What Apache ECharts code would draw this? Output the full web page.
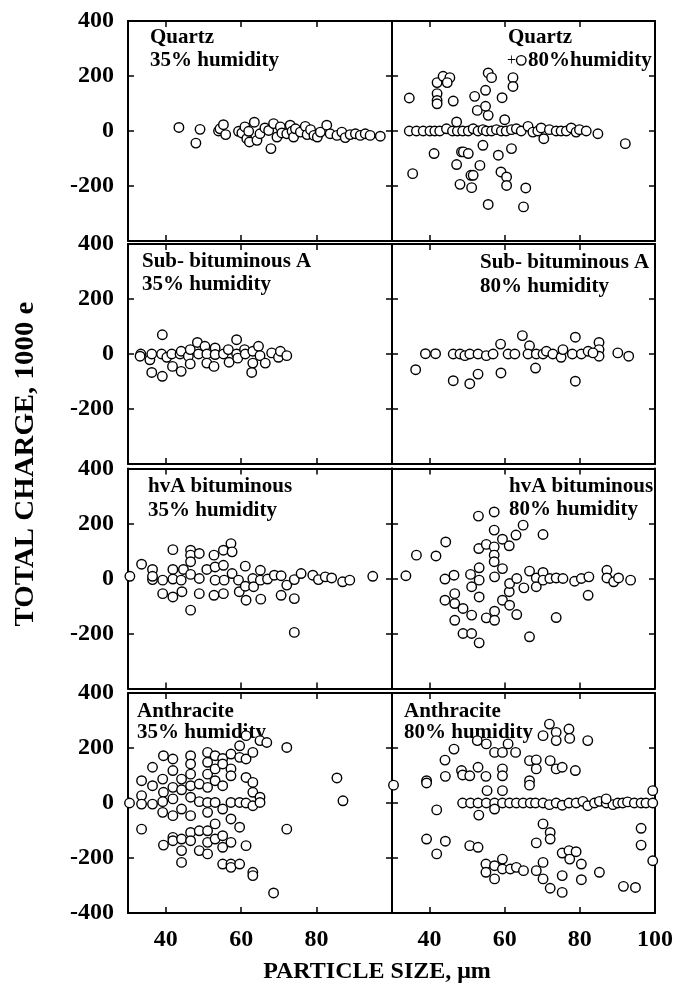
<!DOCTYPE html>
<html>
<head>
<meta charset="utf-8">
<script src="https://cdn.jsdelivr.net/npm/echarts@6/dist/echarts.min.js"></script>
<style>
    html, body { margin: 0; padding: 0; background: #ffffff; }
    #chart { width: 691px; height: 987px; }
</style>
</head>
<body>
<div id="chart"></div>
<script>
    // particle size (um), total charge (1000 e)
    var quartz35 = [
        [43.5, 13], [48, -44], [49.1, 6], [54, 0], [54.4, 8], [55.3, 23], [55.9, -13], [59.3, -1], [60.2, -7],
        [61, 15], [61.5, -28], [62, -1], [62.2, -40], [63.5, 32], [64.2, -34], [65, -10], [66.3, 11], [67.3, 2],
        [67.9, -64], [68.6, 27], [69.5, -22], [70.4, 15], [70.8, -7], [72.1, -10], [73, 21], [73.5, -1], [73.9, -22],
        [74.4, 8], [75.7, -4], [77, 17], [77.5, -13], [78.4, 5], [79.3, -16], [80.2, -22], [81, -4], [82.7, 21],
        [83.6, -10], [85.4, -16], [86.7, -4], [87.6, -24], [88.9, -13], [90.3, -10], [91.6, -16], [92.9, -10],
        [94.2, -16], [96.9, -19]
    ];
    var quartz80 = [
        [34.6, 0], [36.5, 0], [38.3, 0], [40.1, 0], [41.4, 0], [42.7, 0], [44.5, 8], [46.1, 0], [47.4, 0], [48.8, 0],
        [50.3, 0], [51.6, 8], [52.9, 0], [54.2, 5], [55.1, 0], [56.5, 0], [57.8, 5], [59.1, 0], [60.4, 0], [61.8, 5],
        [63.1, 8], [64.4, 0], [66.2, 17], [67.5, -4], [68.8, 0], [69.7, 11], [70.4, -28], [71.9, 5], [73.7, 0],
        [75, 0], [76.4, 0], [77.7, 11], [79, -4], [79.9, 5], [81.7, 0], [84.8, -10], [92.1, -46],
        [47.2, 33], [60, 41], [55.6, 57],
        [34.6, 120], [42, 176], [42, 136], [42, 111], [42, 99], [43.6, 199], [45.4, 194], [44.7, 176], [46.3, 109],
        [52, 126], [52.7, 75], [54.9, 148], [54.9, 90], [55.6, 211], [56.5, 194], [59.3, 121], [62.2, 194],
        [62.2, 162], [64.4, 257],
        [35.5, -155], [41.2, -82], [47.2, -122], [48.5, -76], [49, -76], [50.3, -82], [48.1, -194], [51, -161],
        [51.6, -161], [51.2, -206], [53.4, -125], [54.2, -52], [55.6, -267], [58.3, -88], [59, -149],
        [60.5, -167], [60.5, -198], [61.8, -64], [65, -276], [65.6, -207]
    ];
    var subA35 = [
        [33.4, 0], [33.2, -8], [35.8, -21], [36.3, 0], [36.3, -67], [38.9, 0], [39.1, 70], [39.1, -81], [40.3, -12],
        [41.6, 0], [41.8, -45], [43.8, 0], [44.1, -63], [44.1, 10], [46, -8], [46.5, -36], [46.5, 16], [48.4, 42],
        [48.7, 0], [50.4, 28], [50.9, 0], [50.9, -33], [52.8, -45], [53.1, 22], [53.1, -2], [55.3, 0], [56.6, 16],
        [56.8, -30], [58.8, 52], [58.8, 0], [59.1, -15], [60.9, 16], [61.1, 0], [63.1, 10], [63.1, -33],
        [62.8, -67], [64.6, 28], [65, -6], [66.4, -33], [68.1, 4], [69.9, -12], [70.4, 10], [72.1, -6]
    ];
    var subA80 = [
        [36.3, -57], [38.9, 1], [41.6, 1], [46.3, 0], [46.3, -97], [48.1, 0], [49.4, -6], [50.7, 0], [50.7, -108],
        [52.9, 0], [52.9, -73], [55.1, -6], [56.9, 0], [58.9, 36], [59, -69], [60.9, 0], [62.7, 0], [64.7, 67],
        [66.6, 30], [66.2, 0], [68.4, 0], [68.2, -51], [70.2, 0], [71.1, 10], [72.8, 0], [75, -12], [75.5, 16],
        [78, 0], [78.8, 61], [78.8, -99], [80.4, 0], [82.2, 10], [85.1, 42], [85.1, 16], [85.1, -8], [83.5, 4],
        [90.1, 4], [93, -8]
    ];
    var hva35 = [
        [30.5, 8], [33.6, 52], [36.5, 33], [36.5, -4], [36.5, 8], [39.2, -6], [39.2, -55], [41.9, 105], [41.9, 33],
        [41.9, -2], [41.9, -67], [44.1, -6], [44.3, -48], [44.7, 33], [46.6, 103], [46.6, 85], [46.6, 61],
        [46.6, 15], [46.6, -115], [48.9, 91], [48.9, 0], [48.9, -55], [50.9, 33], [52.8, 85], [53.1, 42],
        [53.1, -6], [52.8, -61], [55.3, 103], [55.3, 48], [55.5, -6], [55.3, -55], [57.3, 127], [57.6, 97],
        [57.6, 18], [59.3, -6], [59.5, -48], [61.1, 45], [61.1, -28], [61.3, -79], [63.1, 0], [63.3, -30],
        [65.1, 30], [65.1, -6], [65.2, -75], [67, -2], [68.8, 12], [70.6, 10], [70.6, -61], [72.1, -24],
        [74.1, -4], [74.1, -73], [74.1, -196], [75.9, 18], [79, 12], [80.5, -4], [82.3, 6], [84, 2], [86.9, -12],
        [88.8, -6], [94.9, 8]
    ];
    var hva80 = [
        [33.7, 10], [36.5, 85], [41.7, 82], [44.3, 133], [44.1, -2], [44.1, -79], [46.5, 12], [46.7, -55],
        [46.7, -91], [46.7, -152], [48.9, -109], [48.9, -200], [50.9, 15], [51.2, -30], [51.2, -133], [51.2, -200],
        [53, 227], [53.1, 109], [53.2, 39], [53.2, -6], [53.2, -67], [53.2, -234], [55.1, 124], [55.1, -143],
        [57.2, 242], [57.2, 176], [57.2, 115], [57.2, 85], [57.2, 61], [57.3, 6], [57.3, -119], [57.3, -152],
        [59.4, 143], [59.4, 36], [59.4, -79], [61.2, 119], [61.2, -48], [61.3, -18], [61.3, -97], [63, 158],
        [63.2, 0], [63.2, -131], [64.9, 194], [65.1, -34], [66.6, 27], [66.6, -212], [68.4, 2], [68.4, -30],
        [70.2, 160], [70.2, 22], [70.2, -6], [72, 0], [73.7, 2], [73.7, -142], [75.5, 0], [78.6, -10], [80.4, 0],
        [82.2, -61], [82.4, 6], [87.2, 30], [87.2, 2], [89, -12], [90.3, 2], [93.5, -6]
    ];
    var anth35 = [
        [30.4, 0], [33.6, 81], [33.6, 27], [33.6, -4], [33.6, -95], [36.5, 130], [36.5, 63], [36.5, -4],
        [39.4, 172], [39.2, 87], [39.4, 39], [39.2, 5], [39.2, -34], [39.4, -153], [41.9, 160], [41.9, 118],
        [41.9, 57], [41.9, 15], [41.9, -46], [41.9, -125], [41.9, -137], [44.2, 87], [44.2, 48], [44.2, -22],
        [44.2, -131], [44.2, -173], [44.2, -216], [46.6, 172], [46.6, 142], [46.6, 105], [46.6, 63], [46.6, 21],
        [46.6, -46], [46.6, -107], [46.6, -137], [48.9, 69], [48.9, 5], [48.9, -101], [48.9, -173], [51.1, 184],
        [51.1, 148], [51.1, 105], [51.1, 57], [51.1, 2], [51.1, -34], [51.1, -101], [51.1, -143], [51.1, -185],
        [53.1, 172], [53.1, 124], [53.1, 81], [53.1, 2], [53.1, -76], [53.1, -131], [55.1, 162], [55.1, 142],
        [55.1, 63], [55.1, -22], [55.1, -119], [55.1, -161], [55.1, -222], [57.3, 178], [57.3, 124], [57.3, 99],
        [57.3, 2], [57.3, -58], [57.3, -143], [57.3, -222], [57.3, -234], [59.6, 166], [59.6, 208], [59.6, 2],
        [59.6, -88], [59.6, -222], [61.3, 245], [61.3, 160], [61.3, 93], [61.3, 0], [61.3, -155], [63.1, 184],
        [63.1, 75], [63.1, 39], [63.1, -10], [63.1, -252], [63.1, -264], [65, 227], [65, 21], [65, 2],
        [66.8, 220], [68.6, -327], [72.1, 202], [72.1, -95], [85.4, 91], [87, 8], [100.4, 65]
    ];
    var anth80 = [
        [48.8, 0], [50.9, 0], [52.9, 0], [55.1, 0], [57.3, 0], [59.4, 0], [61.3, 0], [63.1, 0], [64.9, 0],
        [66.8, 0], [68.2, 0], [70.2, 0], [71.9, -6], [73.7, 0], [75.3, -8], [77.1, 0], [79, 0], [80.8, 6],
        [82.1, -10], [83.9, 0], [85.2, 6], [87, 0], [88.8, -6], [90.1, 0], [91.4, 0], [92.7, 4], [94.5, 0],
        [96.3, 0], [97.6, 0], [99.4, 0],
        [39.2, 81], [39.2, 73], [39.2, -131], [41.9, -25], [41.9, -185], [44.1, 156], [44.2, 97], [44.2, -139],
        [46.5, 196], [48.5, 118], [48.8, 102], [50.7, 99], [50.7, -155], [52.7, 227], [52.9, 130], [53.1, -44],
        [52.9, -161], [55, 97], [55.1, 215], [55.3, 45], [55, -222], [55, -252], [57.3, 184], [57.3, -22],
        [57.3, -228], [57.3, -276], [59.4, 184], [59.4, 124], [59.4, 99], [59.4, 45], [59.4, -204], [59.4, -240],
        [60.9, 215], [61.5, -240], [62.9, 184], [63.1, -234], [65, -246], [66.6, 154], [66.6, 81], [66.6, 65],
        [68.4, 157], [68.4, 124], [68.4, -145], [68.4, -246], [70.2, 245], [70.2, -76], [70.2, -216],
        [70.2, -276], [71.9, 287], [72.1, 154], [72.1, -107], [72.1, -131], [72.1, -310], [73.7, 257],
        [73.7, 227], [73.7, 124], [75.3, 130], [75.3, -182], [75.3, -264], [75.3, -325], [77.1, 269], [77.3, 235],
        [77.1, -173], [77.3, -204], [78.8, 118], [79, -177], [80.4, -222], [80.4, -279], [82.1, 227],
        [85.2, -252], [87, 15], [91.6, -303], [94.8, -307], [96.3, -92], [96.3, -153], [99.4, 45], [99.4, -210]
    ];

    var panelData = [quartz35, quartz80, subA35, subA80, hva35, hva80, anth35, anth80];
    var panelText = [
        ['Quartz', '35% humidity'], ['Quartz', '80%humidity'],
        ['Sub- bituminous A', '35% humidity'], ['Sub- bituminous A', '80% humidity'],
        ['hvA bituminous', '35% humidity'], ['hvA bituminous', '80% humidity'],
        ['Anthracite', '35% humidity'], ['Anthracite', '80% humidity']
    ];
    var xTicks = [40, 60, 80];
    var xLabelsLeft = [40, 60, 80];
    var xLabelsRight = [40, 60, 80, 100];

    // layout
    var gridTops = [21, 244, 468.5, 693];
    var textPos = [ // [x line 1, y line 1, x line 2, y line 2]
        [150, 38, 150, 61], [508, 38, 528, 61],
        [142, 262, 142, 285], [480, 263, 480, 287],
        [148, 487, 148, 511], [509, 487, 509, 510],
        [137, 712, 137, 733], [404, 712, 404, 733]
    ];
    var serif = '"Liberation Serif", "Times New Roman", serif';
    var black = '#000000';

    var grids = [], xAxes = [], yAxes = [], series = [], graphics = [];
    panelData.forEach(function (data, i) {
        var row = Math.floor(i / 2), col = i % 2;
        var bottom = row === 3;
        grids.push({
            left: col ? 392 : 128, top: gridTops[row], width: col ? 263 : 264, height: 220
        });
        ['bottom', 'top'].forEach(function (pos) {
            xAxes.push({
                type: 'value', gridIndex: i, position: pos, min: 30, max: 100,
                axisLine: { show: true, onZero: false, lineStyle: { color: black, width: 2 } },
                axisTick: { show: true, inside: true, length: 6, customValues: xTicks, lineStyle: { color: black, width: 1.5 } },
                axisLabel: {
                    show: bottom && pos === 'bottom',
                    customValues: col ? xLabelsRight : xLabelsLeft,
                    margin: 15, color: black, fontFamily: serif, fontWeight: 'bold', fontSize: 24
                },
                splitLine: { show: false }
            });
        });
        ['left', 'right'].forEach(function (pos) {
            yAxes.push({
                type: 'value', gridIndex: i, position: pos, min: -400, max: 400, interval: 200,
                axisLine: { show: true, onZero: false, lineStyle: { color: black, width: 2 } },
                axisTick: { show: true, inside: true, length: 6, lineStyle: { color: black, width: 1.5 } },
                axisLabel: {
                    show: col === 0 && pos === 'left',
                    margin: 14, color: black, fontFamily: serif, fontWeight: 'bold', fontSize: 24,
                    formatter: function (v) { return (v === -400 && !bottom) ? '' : String(v); }
                },
                splitLine: { show: false }
            });
        });
        series.push({
            type: 'scatter', xAxisIndex: i * 2, yAxisIndex: i * 2, data: data, clip: false,
            symbol: 'circle', symbolSize: 9.5, z: 5,
            itemStyle: { color: '#ffffff', borderColor: black, borderWidth: 1.4, opacity: 1 },
            emphasis: { disabled: true }
        });
        var tp = textPos[i];
        panelText[i].forEach(function (line, k) {
            graphics.push({
                type: 'text', x: tp[k * 2], y: tp[k * 2 + 1], z: 0,
                style: { text: line, fill: black, font: 'bold 21px ' + serif, verticalAlign: 'middle' }
            });
        });
    });
    // stray "+" in front of the 80% quartz label
    graphics.push({
        type: 'text', x: 507, y: 61, z: 0,
        style: { text: '+', fill: black, font: '16px ' + serif, verticalAlign: 'middle' }
    });
    graphics.push({
        type: 'text', x: 26, y: 464, rotation: Math.PI / 2, scaleX: 1.07,
        style: { text: 'TOTAL CHARGE, 1000 e', fill: black, font: 'bold 27px ' + serif, align: 'center', verticalAlign: 'middle' }
    });
    graphics.push({
        type: 'text', x: 377, y: 972,
        style: { text: 'PARTICLE SIZE, μm', fill: black, font: 'bold 24px ' + serif, align: 'center', verticalAlign: 'middle' }
    });

    var chart = echarts.init(document.getElementById('chart'), null, { renderer: 'canvas' });
    chart.setOption({
        backgroundColor: '#ffffff',
        animation: false,
        grid: grids,
        xAxis: xAxes,
        yAxis: yAxes,
        series: series,
        graphic: graphics
    });
</script>
</body>
</html>
